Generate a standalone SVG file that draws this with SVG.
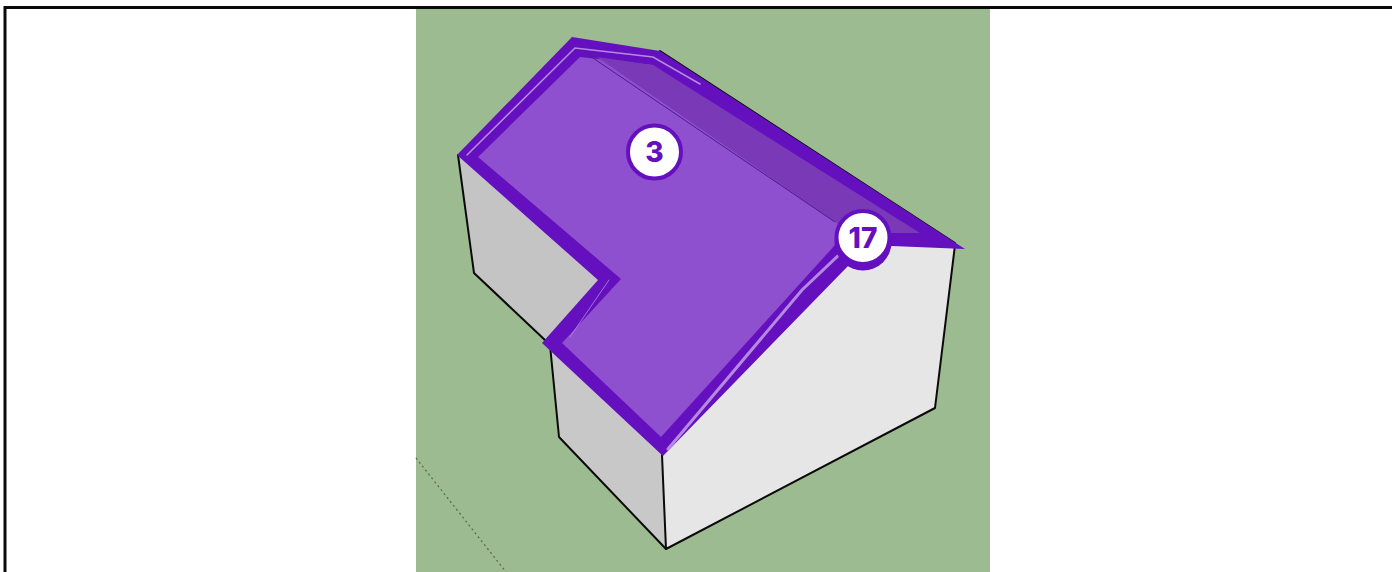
<svg xmlns="http://www.w3.org/2000/svg" width="1392" height="572" viewBox="0 0 1392 572">
<style>
.edge{fill:none;stroke:#0a0a0a;stroke-width:2;stroke-linejoin:round;stroke-linecap:round}
.band{fill:#6410bf}
.strip{fill:none;stroke:#b48ae0;stroke-linecap:round}
.disc{fill:#fff;stroke:#6410bf;stroke-width:4}
.num{font-family:"Inter","Noto Sans",sans-serif;font-weight:800;fill:#6410bf;text-anchor:middle}
</style>
<rect width="1392" height="572" fill="#fff"/>
<rect x="416" y="9" width="574" height="563" fill="#9dbb91"/>
<path d="M5 572V7.500H1392" fill="none" stroke="#0a0a0a" stroke-width="3"/>
<g id="axis"><path d="M416 458L506 572" fill="none" stroke="#5f6a4a" stroke-width="1.300" stroke-dasharray="2 3"/></g>
<g id="building">
<polygon points="458,155 474,273 548,343 620,280" fill="#c4c4c4"/>
<polygon points="550,345 559,437 666,549 662,455" fill="#c8c8c8"/>
<polygon points="662,455 666,549 935,408 955,245 860,245" fill="#e6e6e6"/>
</g>
<g id="connectors">
<path class="edge" d="M458 155L474 273L546 341"/>
<path class="edge" d="M550 345L559 437L666 549L935 408L955 245"/>
<path class="edge" d="M662 455L666 549"/>
<path class="edge" d="M660 51L955 243"/>
</g>
<g id="roof">
<polygon class="band" points="457,155 572,37 660,51 965,249 892,246 848,266 663,456 542,343 598,280"/>
<polygon points="478,157 580,57 653,65 892,233 835,245 661,437 562,343 621,279" fill="#8e50ce"/>
<polygon points="597,57 653,65 920,233 892,233 862,237 835,222" fill="#7a3ab8"/>
<path d="M590 56L835 222" fill="none" stroke="#4d1d8a" stroke-width="1"/>
<path class="strip" stroke-width="1.600" d="M467 155L575 48L653 57L700 84"/>
<path class="strip" stroke-width="3" d="M668 449L802 290L842 252"/>
<path class="strip" stroke-width="0.800" d="M570 337L609 280"/>
</g>
<g id="badge-3">
<circle class="disc" cx="654.500" cy="152" r="26.500"/>
<text class="num" x="654.500" y="162" font-size="28">3</text>
</g>
<g id="badge-17">
<circle cx="863" cy="242" r="28.500" fill="#6410bf"/>
<circle class="disc" cx="863" cy="237.500" r="26.500"/>
<text class="num" x="863" y="248" font-size="28">17</text>
</g>
</svg>
